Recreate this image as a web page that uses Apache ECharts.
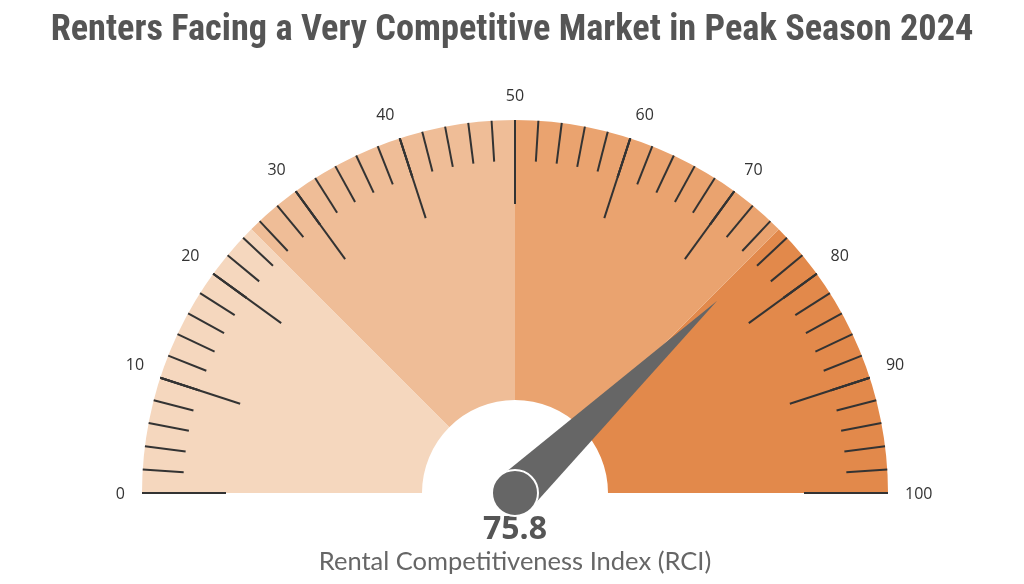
<!DOCTYPE html>
<html><head><meta charset="utf-8">
<script src="https://cdn.jsdelivr.net/npm/echarts@6/dist/echarts.min.js"></script>
<style>html,body{margin:0;padding:0;background:#fff}#c{width:1024px;height:584px}</style>
</head><body><div id="c"></div>
<script>
const chartTitle = 'Renters Facing a Very Competitive Market in Peak Season 2024';
const indexName = 'Rental Competitiveness Index (RCI)';
const rciValue = 75.8;
const gaugeMin = 0;
const gaugeMax = 100;
const labelStep = 10;
const bandStops = [0.25, 0.5, 0.75, 1];
const bandColors = ['#f5d7be', '#efbd97', '#eaa36f', '#e2894b'];

const chart = echarts.init(document.getElementById('c'));
const R = 373, W = 280, CX = 515, CY = 493;
chart.setOption({
  backgroundColor: '#fff',
  title: {
    text: chartTitle, left: 'center', top: 8,
    textStyle: { fontFamily: "'Roboto Condensed','Liberation Sans Narrow','Roboto',sans-serif", fontWeight: 'bold', fontSize: 36.3, color: '#555' }
  },
  polar: { center: [CX, CY + 1], radius: [0, R] },
  angleAxis: {
    type: 'value', min: gaugeMin, max: gaugeMin + 2 * (gaugeMax - gaugeMin), interval: labelStep,
    startAngle: 180, clockwise: true,
    axisLine: { show: false }, axisTick: { show: false }, splitLine: { show: false },
    axisLabel: { margin: 17, color: '#333', fontSize: 16, fontFamily: "'Open Sans','Noto Sans',sans-serif",
      formatter: v => (v <= gaugeMax ? String(v) : '') }
  },
  radiusAxis: { show: false, min: 0, max: 1 },
  series: [{
    type: 'gauge',
    name: indexName,
    center: [CX, CY],
    radius: R,
    startAngle: 180, endAngle: 0,
    min: gaugeMin, max: gaugeMax,
    splitNumber: (gaugeMax - gaugeMin) / labelStep,
    axisLine: { lineStyle: { width: W, color: bandStops.map((s, i) => [s, bandColors[i]]) } },
    splitLine: { distance: -W, length: 84, lineStyle: { color: '#333', width: 2 } },
    axisTick: { distance: -W, length: 41, splitNumber: 5, lineStyle: { color: '#333', width: 2 } },
    axisLabel: { show: false },
    pointer: { icon: 'path://M0,100 L50,0 L100,100 Z', width: 44, length: 279, offsetCenter: [0, 0], itemStyle: { color: '#666' } },
    anchor: { show: true, showAbove: true, size: 46, itemStyle: { color: '#666', borderColor: '#fff', borderWidth: 2 } },
    title: { show: true, offsetCenter: [0, 69], fontSize: 25.5, color: '#666', fontFamily: "Lato,'Open Sans',sans-serif" },
    detail: { show: true, offsetCenter: [0, 37], fontSize: 32, fontWeight: 'bold', color: '#555', fontFamily: "'Open Sans','Noto Sans',sans-serif", formatter: v => v.toFixed(1) },
    data: [{ value: rciValue, name: indexName }]
  }]
});
</script></body></html>
